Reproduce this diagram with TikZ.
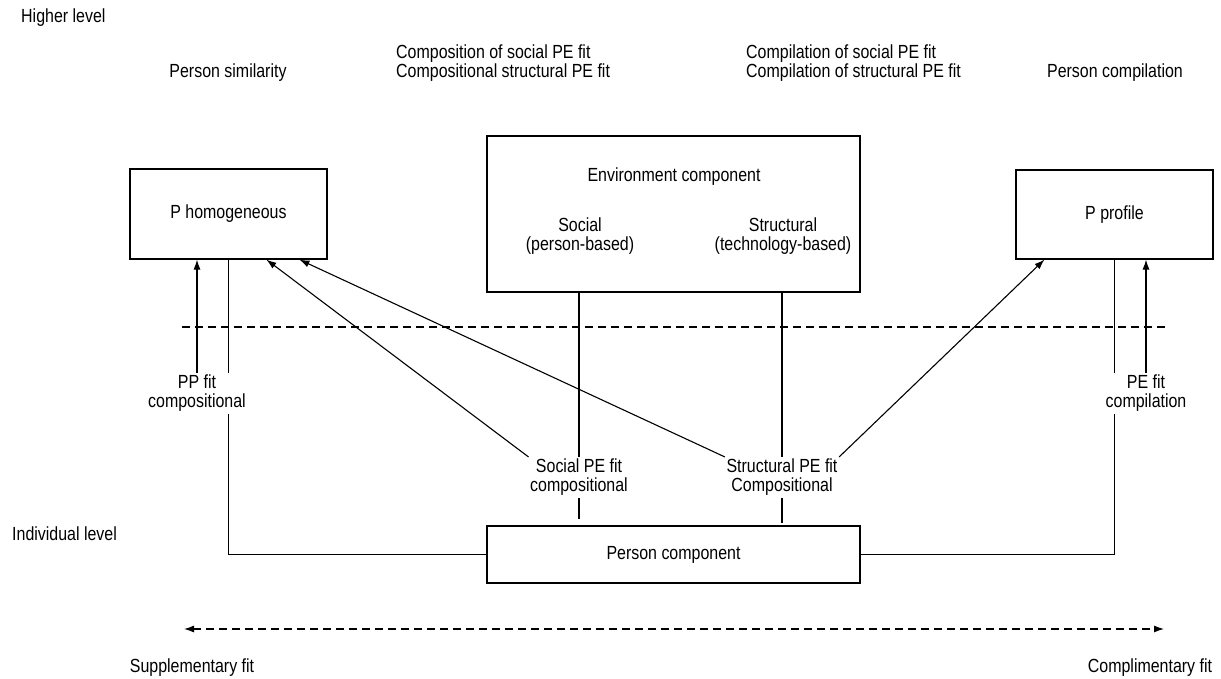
\documentclass[tikz,border=0pt]{standalone}
\usepackage{fontspec}
\setmainfont{Liberation Sans}[FakeStretch=0.84]
\usetikzlibrary{arrows.meta,calc}
\begin{document}
\begin{tikzpicture}[x=1pt,y=-1pt,
  font=\fontsize{19}{19}\selectfont,
  every node/.style={inner sep=0pt},
  box/.style={draw, line width=1.2pt, inner sep=0pt},
  lbl/.style={align=center, inner xsep=1.5pt, inner ysep=2pt},
  conn/.style={line width=1.1pt},
  arr/.style={conn, -{Latex[length=10pt,width=7pt]}},
  guide/.style={line width=1.1pt, dash pattern=on 8pt off 5pt}]
\useasboundingbox (0,0) rectangle (1221,679);

% level and fit-type captions
\node[anchor=west] (hi) at (21,18) {Higher level};
\node (sim) at (228,73) {Person similarity};
\node[anchor=west, align=left] (compo) at (396,63.5) {Composition of social PE fit\\Compositional structural PE fit};
\node[anchor=west, align=left] (compi) at (746,63.5) {Compilation of social PE fit\\Compilation of structural PE fit};
\node (pcomp) at (1115,73) {Person compilation};
\node[anchor=west] (ind) at (12,534) {Individual level};
\node (supp) at (192,668) {Supplementary fit};
\node (compl) at (1150,668) {Complimentary fit};

% boxes
\node[box, minimum width=197pt, minimum height=90pt] (phom) at (228.5,214) {P homogeneous};
\node[box, minimum width=373pt, minimum height=156pt] (env) at (673.5,214) {};
\node (envtitle) at (674,177) {Environment component};
\node[align=center] (envsoc) at (580,236) {Social\\(person-based)};
\node[align=center] (envstr) at (783,236) {Structural\\(technology-based)};
\node[box, minimum width=197pt, minimum height=89pt] (prof) at (1114.5,214.5) {P profile};
\node[box, minimum width=373pt, minimum height=57pt] (person) at (673.5,554.5) {Person component};

% fit labels
\node[lbl] (pplab) at (197,393.5) {PP fit\\compositional};
\node[lbl] (pelab) at (1146,393.5) {PE fit\\compilation};
\node[lbl] (soclab) at (579,477.5) {Social PE fit\\compositional};
\node[lbl] (strlab) at (782,477.5) {Structural PE fit\\Compositional};

% level divider and fit continuum
\coordinate (dl) at (182,327);
\coordinate (dr) at (1166,327);
\coordinate (bl) at (184,629);
\coordinate (br) at (1164,629);
\draw[guide] (dl) -- (dr);
\draw[guide, {Latex[length=10pt,width=7pt]}-{Latex[length=10pt,width=7pt]}] (bl) -- (br);

% person-person fit (left)
\draw[arr] (pplab.north) -- (pplab.north |- phom.south);
\draw[conn] (phom.south) -- (phom.south |- pplab.north);
\draw[conn] (phom.south |- pplab.south) -- (phom.south |- person.west) -- (person.west);

% person-environment compilation (right)
\draw[arr] (pelab.north) -- (pelab.north |- prof.south);
\draw[conn] (prof.south) -- (prof.south |- pelab.north);
\draw[conn] (prof.south |- pelab.south) -- (prof.south |- person.east) -- (person.east);

% environment links
\draw[conn] (soclab.north |- env.south) -- (soclab.north);
\draw[conn] (soclab.south) -- ($(soclab.south |- person.north)+(0,-6)$);
\draw[conn] (strlab.north |- env.south) -- (strlab.north);
\draw[conn] (strlab.south) -- ($(strlab.south |- person.north)+(0,-2)$);

% compositional and compilation arrows
\draw[arr] (soclab.north west) -- ($(phom.south west)+(137,0)$);
\draw[arr] (strlab.north west) -- ($(phom.south west)+(170,0)$);
\draw[arr] (strlab.north east) -- ($(prof.south west)+(29,0)$);
\end{tikzpicture}
\end{document}
